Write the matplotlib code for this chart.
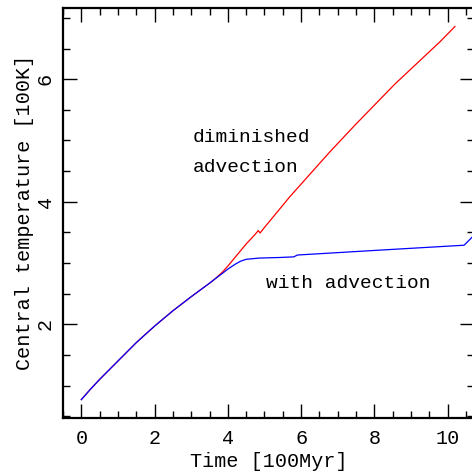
import matplotlib
matplotlib.use("Agg")
import matplotlib.pyplot as plt
from matplotlib.ticker import MultipleLocator

# Shared early evolution (both runs coincide)
t_common = [0.0, 0.25, 0.5, 0.75, 1.0, 1.5, 2.0, 2.5, 3.0, 3.5, 3.65]
T_common = [0.77, 0.94, 1.10, 1.25, 1.40, 1.70, 1.97, 2.22, 2.45, 2.67, 2.74]

# Diminished advection (red)
t_dim = [3.85, 4.0, 4.25, 4.5, 4.75, 4.83, 4.88, 5.0, 5.69, 6.78, 7.47, 8.56, 9.79, 10.2]
T_dim = [2.85, 2.95, 3.13, 3.31, 3.47, 3.53, 3.49, 3.58, 4.08, 4.81, 5.25, 5.92, 6.61, 6.86]

# With advection (blue)
t_adv = [3.85, 4.0, 4.2, 4.35, 4.5, 4.85, 5.42, 5.8, 5.9, 8.15, 10.45, 10.75]
T_adv = [2.83, 2.90, 2.98, 3.03, 3.06, 3.08, 3.09, 3.10, 3.13, 3.21, 3.29, 3.47]

xticks = [0, 2, 4, 6, 8, 10]
yticks = [2, 4, 6]

plt.rcParams['font.family'] = ['Liberation Mono', 'DejaVu Sans Mono']

FS = 14.5

fig = plt.figure(figsize=(4.72, 4.73), dpi=100)
ax = fig.add_axes([63/472, 55/473, 411/472, 410.5/473])

ax.plot(t_common + t_dim, T_common + T_dim, color='#ff0000', lw=0.9)
ax.plot(t_common + t_adv, T_common + T_adv, color='#0000ff', lw=0.9)

ax.set_xlim(-0.5, 10.72)
ax.set_ylim(0.47, 7.17)
ax.set_xticks(xticks)
ax.set_yticks(yticks)
ax.xaxis.set_minor_locator(MultipleLocator(0.5))
ax.yaxis.set_minor_locator(MultipleLocator(0.5))
ax.tick_params(which='both', direction='in', top=True, right=True, width=1, colors='black', labelsize=FS)
ax.tick_params(which='major', length=10)
ax.tick_params(which='minor', length=5)
ax.tick_params(axis='y', labelrotation=90, pad=6)
ax.tick_params(axis='x', pad=8)
for lab in ax.get_yticklabels():
    lab.set_va('center')
for s in ax.spines.values():
    s.set_linewidth(1.6)

ax.set_xlabel('Time [100Myr]', fontsize=FS, labelpad=3)
ax.set_ylabel('Central temperature [100K]', fontsize=FS, labelpad=1)

ax.text(3.04, 4.98, 'diminished', fontsize=14)
ax.text(3.04, 4.48, 'advection', fontsize=14)
ax.text(5.04, 2.59, 'with advection', fontsize=14)

fig.savefig('out.png', dpi=100)
